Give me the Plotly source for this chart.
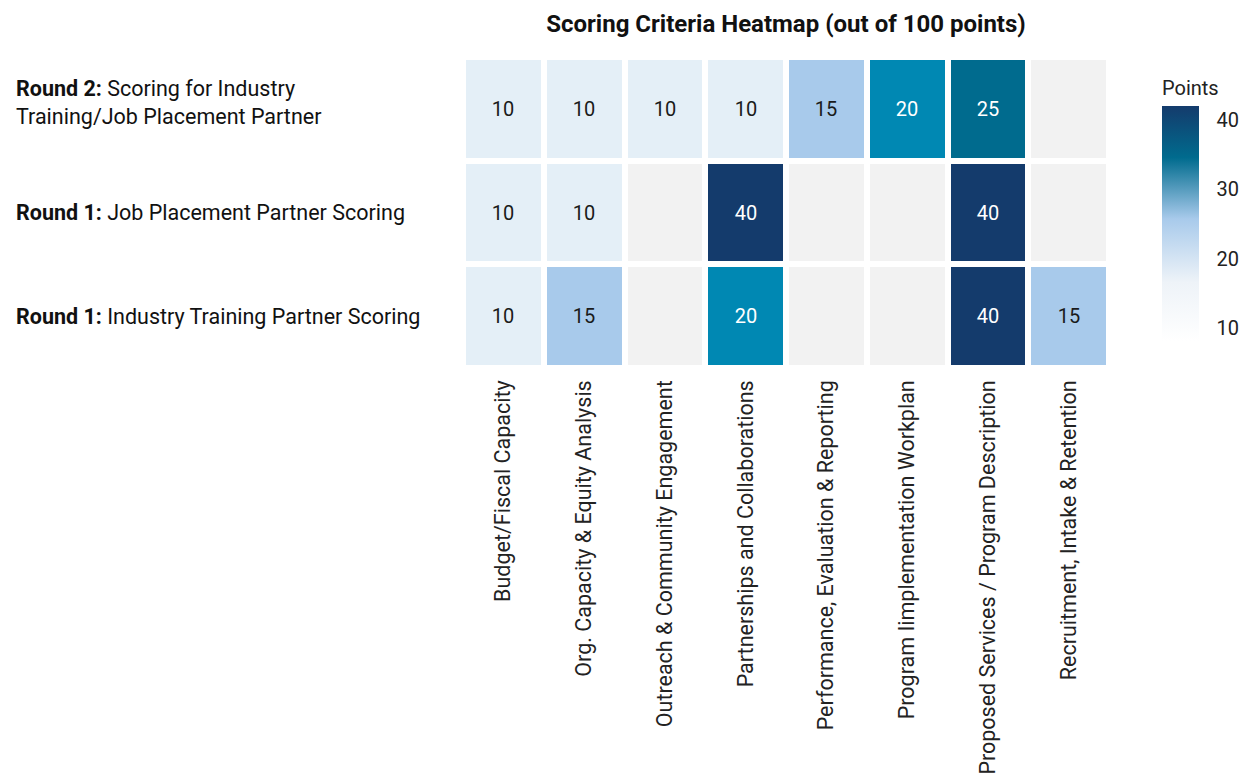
import plotly.graph_objects as go

criteria = [
    "Budget/Fiscal Capacity",
    "Org. Capacity & Equity Analysis",
    "Outreach & Community Engagement",
    "Partnerships and Collaborations",
    "Performance, Evaluation & Reporting",
    "Program Iimplementation Workplan",
    "Proposed Services / Program Description",
    "Recruitment, Intake & Retention",
]

# rows bottom -> top
rounds = ["R1 Industry", "R1 Job", "R2"]
round_labels = [
    "<b>Round 1:</b> Industry Training Partner Scoring",
    "<b>Round 1:</b> Job Placement Partner Scoring",
    "<b>Round 2:</b> Scoring for Industry<br>Training/Job Placement Partner",
]

r1_industry = [10, 15, None, 20, None, None, 40, 15]
r1_job = [10, 10, None, 40, None, None, 40, None]
r2 = [10, 10, 10, 10, 15, 20, 25, None]

z = [r1_industry, r1_job, r2]

FONT = "Roboto"
cell_scale = [
    [0.0, "#e4eff7"],
    [1 / 6, "#a8caeb"],
    [1 / 3, "#0088b3"],
    [0.5, "#006b8e"],
    [1.0, "#143b6c"],
]
bar_scale = [
    [0.0, "#ffffff"],
    [0.25, "#eef3f8"],
    [0.52, "#a8caeb"],
    [0.78, "#006b8e"],
    [1.0, "#143b6c"],
]

DARK_FROM = 20
z_light = [[v if (v is not None and v < DARK_FROM) else None for v in row] for row in z]
z_dark = [[v if (v is not None and v >= DARK_FROM) else None for v in row] for row in z]

fig = go.Figure()

# gray background bricks (missing values show through)
fig.add_trace(go.Heatmap(
    x=criteria, y=rounds,
    z=[[1] * len(criteria) for _ in rounds],
    colorscale=[[0, "#f2f2f2"], [1, "#f2f2f2"]],
    showscale=False, xgap=6, ygap=6, hoverinfo="skip",
))

for zz, tc in ((z_light, "#1a1a1a"), (z_dark, "#ffffff")):
    fig.add_trace(go.Heatmap(
        x=criteria, y=rounds, z=zz,
        zmin=10, zmax=40, colorscale=cell_scale,
        showscale=False, xgap=6, ygap=6,
        texttemplate="%{z}",
        textfont=dict(family=FONT, size=20, color=tc),
    ))

# colorbar
fig.add_trace(go.Scatter(
    x=[None], y=[None], mode="markers", showlegend=False, hoverinfo="skip",
    marker=dict(
        color=[10], colorscale=bar_scale, cmin=8.2, cmax=42, showscale=True,
        colorbar=dict(
            title=dict(text="Points", side="top", font=dict(family=FONT, size=20, color="#222")),
            tickvals=[10, 20, 30, 40],
            tickfont=dict(family=FONT, size=20, color="#222"),
            thickness=37, outlinewidth=0,
            ticks="outside", ticklen=14, tickcolor="rgba(0,0,0,0)",
            lenmode="pixels", len=284, ypad=10,
            x=1.0666, xanchor="left", y=0.968, yanchor="top",
        ),
    ),
))

for r, lab in zip(rounds, round_labels):
    fig.add_annotation(
        x=-0.6958, xref="paper", y=r, yref="y", text=lab,
        xanchor="left", align="left", showarrow=False,
        yshift=6 if "<br>" in lab else 0,
        font=dict(family=FONT, size=21.5, color="#111"),
    )

fig.update_layout(
    width=1246, height=777,
    margin=dict(l=463, r=137, t=57, b=409, autoexpand=False),
    paper_bgcolor="white", plot_bgcolor="white",
    title=dict(text="<b>Scoring Criteria Heatmap (out of 100 points)</b>",
               x=0.5, xref="paper", xanchor="center", y=0.97, yanchor="middle",
               font=dict(family=FONT, size=24, color="#111")),
    xaxis=dict(tickangle=-90, showgrid=False, zeroline=False, ticks="",
               ticklabelstandoff=7,
               tickfont=dict(family=FONT, size=21.5, color="#222")),
    yaxis=dict(showticklabels=False, showgrid=False, zeroline=False, ticks=""),
    font=dict(family=FONT),
)

fig.write_html("out.html")
